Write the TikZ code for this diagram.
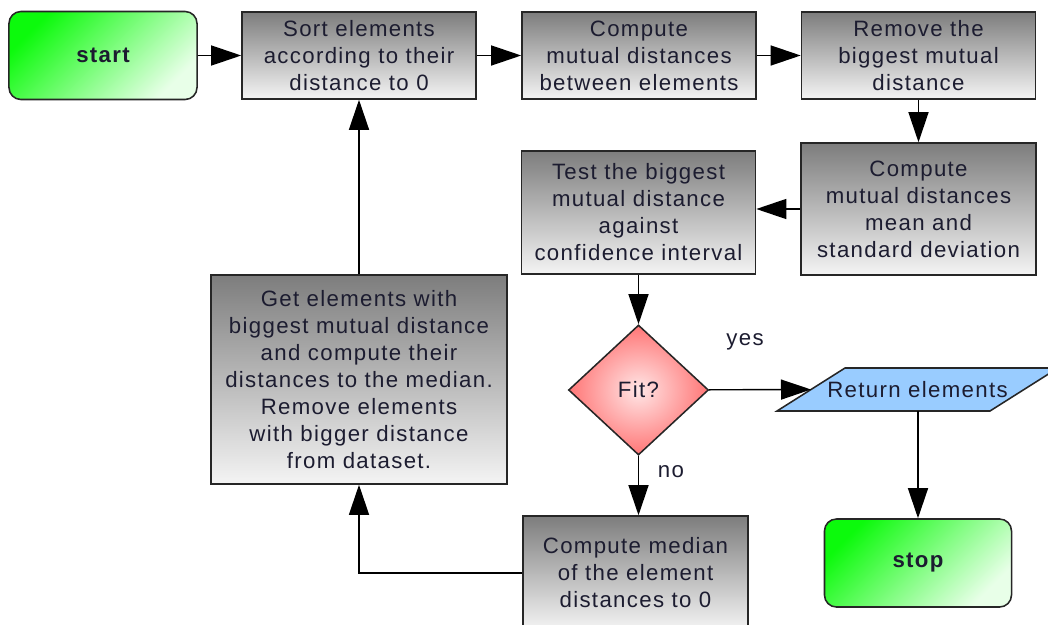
\documentclass[tikz,border=0pt]{standalone}
\usepackage{fontspec}
\setmainfont{Liberation Sans}[LetterSpace=6]
\usetikzlibrary{shapes.geometric, arrows.meta}

\definecolor{boxtop}{RGB}{125,125,125}
\definecolor{boxbot}{RGB}{244,244,244}
\definecolor{termdark}{RGB}{12,250,12}
\definecolor{termlight}{RGB}{232,255,232}
\definecolor{fitin}{RGB}{255,230,230}
\definecolor{fitout}{RGB}{255,118,118}
\definecolor{retblue}{RGB}{153,204,255}
\definecolor{txt}{RGB}{28,28,48}

\tikzset{
  every node/.style={font=\fontsize{15.8}{19.2}\selectfont, text=txt, align=center},
  procbox/.style={draw=black!85, line width=1.1pt, top color=boxtop, bottom color=boxbot, inner sep=0pt},
  termbox/.style={draw=black!85, line width=1.1pt, rounded corners=0.3cm, top color=termdark, bottom color=termlight,
    shading angle=45, minimum width=4.7cm, minimum height=2.2cm, font=\fontsize{15.8}{19.2}\selectfont\bfseries},
  decision/.style={diamond, draw=black!85, line width=1.1pt, inner color=fitin, outer color=fitout,
    minimum width=3.5cm, minimum height=3.25cm, inner sep=0pt},
  iobox/.style={draw=black!85, line width=1.1pt, fill=retblue},
  arr/.style={-{Triangle[length=7.5mm, width=5mm]}, line width=1pt, black}
}

\begin{document}
\begin{tikzpicture}[x=0.025cm, y=-0.025cm]
  \useasboundingbox (0,0) rectangle (1048,625);
  \clip (0,0) rectangle (1048,625);

  % Top row
  \node[termbox] (start) at (103,55.5) {start};
  \node[procbox, minimum width=5.85cm, minimum height=2.175cm] (sort) at (359,55.5)
    {Sort elements\\according to their\\distance to 0};
  \node[procbox, minimum width=5.85cm, minimum height=2.175cm] (mutual) at (639,55.5)
    {Compute\\mutual distances\\between elements};
  \node[procbox, minimum width=5.85cm, minimum height=2.175cm] (remove) at (918.5,55.5)
    {Remove the\\biggest mutual\\distance};

  % Statistics and test
  \node[procbox, minimum width=5.875cm, minimum height=3.3cm] (mean) at (918.5,209)
    {Compute\\mutual distances\\mean and\\standard deviation};
  \node[procbox, minimum width=5.85cm, minimum height=3.075cm] (test) at (638.5,212.5)
    {Test the biggest\\mutual distance\\against\\confidence interval};

  % Decision and outputs
  \node[decision] (fit) at (638.5,390) {Fit?};
  \draw[iobox] (777,411) -- (990,411) -- (1058,368) -- (845,368) -- cycle;
  \node (ret) at (917.5,389.5) {Return elements};
  \coordinate (retin) at (811,389.5);
  \coordinate (retout) at (918,411);
  \node[termbox, minimum width=4.675cm] (stop) at (918,563) {stop};
  \node (yes) at (745,342) {yes};
  \node (no) at (671,472) {no};

  % Median and removal loop
  \node[procbox, minimum width=5.625cm, minimum height=2.85cm] (median) at (635.5,573)
    {Compute median\\of the element\\distances to 0};
  \node[procbox, minimum width=7.4cm, minimum height=5.225cm] (get) at (359,379.5)
    {Get elements with\\biggest mutual distance\\and compute their\\distances to the median.\\Remove elements\\with bigger distance\\from dataset.};

  % Connectors
  \draw[arr] (start) -- (sort);
  \draw[arr] (sort) -- (mutual);
  \draw[arr] (mutual) -- (remove);
  \draw[arr] (remove) -- (mean);
  \draw[arr] (mean.west) -- (mean.west -| test.east);
  \draw[arr] (test) -- (fit);
  \draw[arr] (fit) -- (retin);
  \draw[arr] (retout) -- (stop);
  \draw[arr] (fit.south) -- (fit.south |- median.north);
  \draw[arr] (median.west) -| (get.south);
  \draw[arr] (get) -- (sort);
\end{tikzpicture}
\end{document}
